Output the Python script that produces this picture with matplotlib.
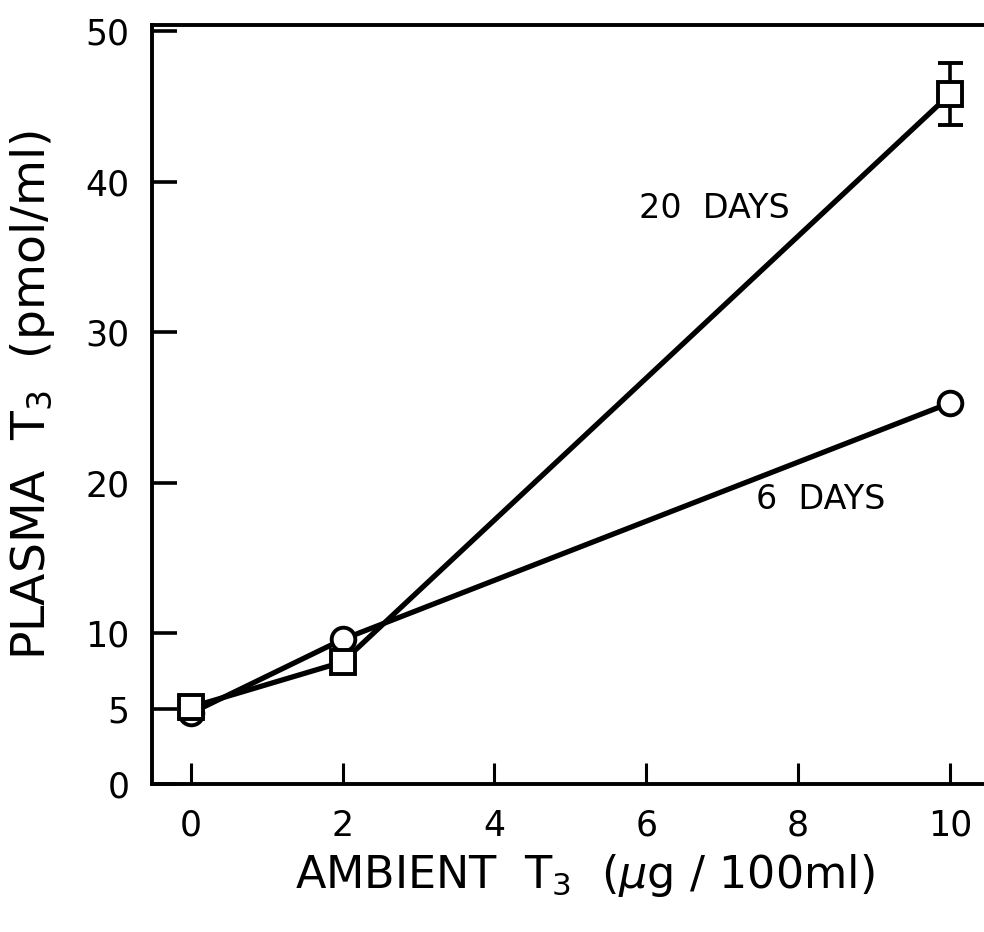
import matplotlib
matplotlib.use("Agg")
import matplotlib.pyplot as plt

plt.rcParams["font.family"] = ["DejaVu Sans"]

# ambient T3 dose (ug / 100 ml)
ambient_t3 = [0, 2, 10]

# plasma T3 (pmol/ml) after each exposure length
plasma_20_days = [5.1, 8.1, 45.8]
plasma_20_days_err = [0, 0, 2.05]
plasma_6_days = [4.7, 9.6, 25.3]

x_ticks = [0, 2, 4, 6, 8, 10]
y_ticks = [0, 5, 10, 20, 30, 40, 50]

fig = plt.figure(figsize=(9.84, 9.32), dpi=100)
ax = fig.add_axes([0.1545, 0.1588, 0.8455, 0.8143])

line_kw = dict(color="black", lw=3.8, markersize=17, markerfacecolor="white",
               markeredgecolor="black", markeredgewidth=2.8)

ax.plot(ambient_t3, plasma_6_days, marker="o", zorder=3, **line_kw)
ax.errorbar(ambient_t3, plasma_20_days, yerr=plasma_20_days_err, marker="s",
            capsize=9, elinewidth=2.6, capthick=2.6, zorder=4, **line_kw)

ax.text(6.9, 38.2, "20  DAYS", fontsize=24, ha="center", va="center")
ax.text(8.3, 18.9, "6  DAYS", fontsize=24, ha="center", va="center")

ax.set_xlim(-0.51, 10.45)
ax.set_ylim(0, 50.4)
ax.set_xticks(x_ticks)
ax.set_yticks(y_ticks)

ax.spines["right"].set_visible(False)
for side in ["left", "top", "bottom"]:
    ax.spines[side].set_linewidth(2.8)

ax.tick_params(axis="x", direction="in", length=15, width=2.2, labelsize=25, pad=18)
ax.tick_params(axis="y", direction="in", length=18, width=2.6, labelsize=25, pad=16)

ax.set_xlabel(r"AMBIENT  T$\mathregular{_3}$  ($\mu$g / 100ml)", fontsize=32, va="center")
ax.xaxis.set_label_coords(0.52, -0.12)
ax.set_ylabel(r"PLASMA  T$\mathregular{_3}$  (pmol/ml)", fontsize=34, va="center")
ax.yaxis.set_label_coords(-0.144, 0.512)

fig.savefig("out.png", dpi=100)
